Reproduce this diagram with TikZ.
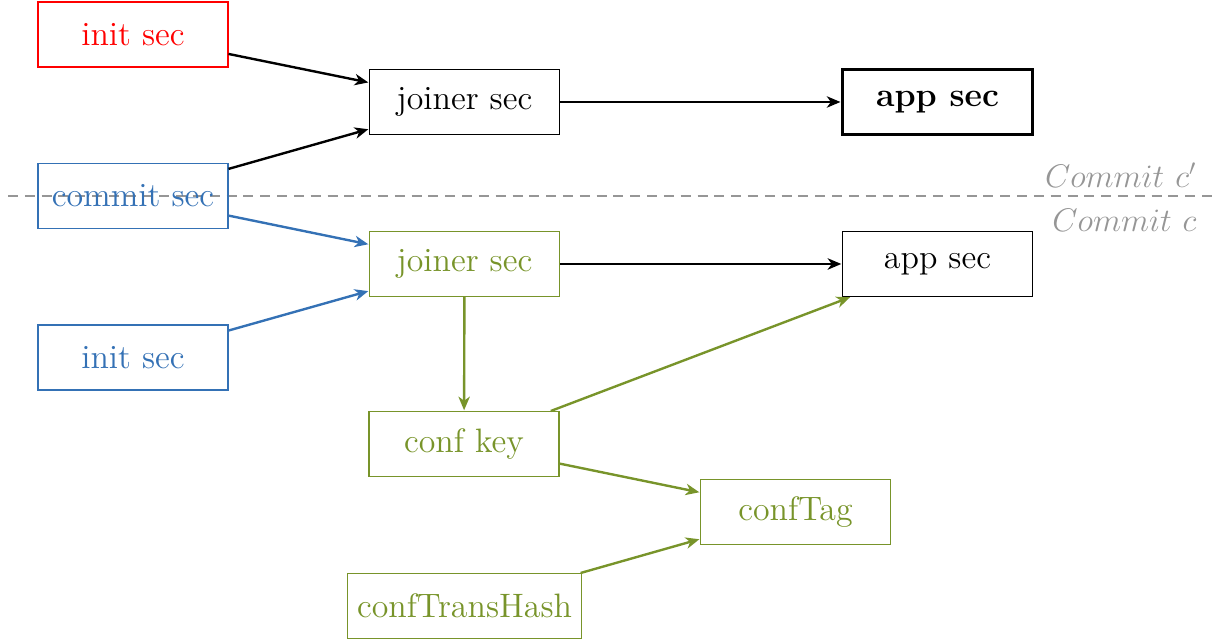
\documentclass[tikz,border=0pt]{standalone}
\usetikzlibrary{arrows.meta}
\definecolor{secred}{RGB}{255,0,0}
\definecolor{secblue}{RGB}{52,113,181}
\definecolor{secgreen}{RGB}{120,148,42}
\definecolor{linegray}{RGB}{150,150,150}
\newcommand{\secfont}{\fontsize{14.9}{18}\selectfont}
\begin{document}
\begin{tikzpicture}[x=0.44pt, y=-0.44pt,
  secbox/.style={draw, rectangle, line width=0.45pt, minimum width=83.6pt, minimum height=28.6pt, inner sep=4pt, font=\secfont},
  link/.style={-{Stealth[length=6pt, width=5pt, inset=1.8pt]}, line width=1.05pt, shorten >=0.3pt},
  commitlabel/.style={anchor=east, inner sep=0pt, text=linegray, font=\secfont}]
  \useasboundingbox (0,0) rectangle (1215,643);

  % commit boundary
  \draw[linegray, dash pattern=on 4.4pt off 3pt, line width=0.45pt] (8,196) -- (1215,196);
  \node[commitlabel] (cprime) at (1197,175) {$Commit\ c'$};
  \node[commitlabel] (cnow) at (1197,220) {$Commit\ c$};

  % commit c' side
  \node[secbox, secred] (initold) at (133,34.5) {init sec};
  \node[secbox, secblue] (commit) at (133,196) {commit sec};
  \node[secbox] (joinold) at (464.5,102) {joiner sec};
  \node[secbox, line width=1.2pt] (appold) at (937.5,102) {\textbf{app sec}};

  % commit c side
  \node[secbox, secgreen] (joinnew) at (464.5,264) {joiner sec};
  \node[secbox] (appnew) at (937.5,264) {app sec};
  \node[secbox, secblue] (initnew) at (133,357.5) {init sec};
  \node[secbox, secgreen] (confkey) at (464,444) {conf key};
  \node[secbox, secgreen] (conftag) at (795.5,512) {confTag};
  \node[secbox, secgreen] (confhash) at (464.5,606) {confTransHash};

  % derivations
  \draw[link] (initold) -- (joinold);
  \draw[link] (commit) -- (joinold);
  \draw[link] (joinold) -- (appold);
  \draw[link, secblue] (commit) -- (joinnew);
  \draw[link, secblue] (initnew) -- (joinnew);
  \draw[link] (joinnew) -- (appnew);
  \draw[link, secgreen] (joinnew) -- (confkey);
  \draw[link, secgreen] (confkey) -- (appnew);
  \draw[link, secgreen] (confkey) -- (conftag);
  \draw[link, secgreen] (confhash) -- (conftag);
\end{tikzpicture}
\end{document}
